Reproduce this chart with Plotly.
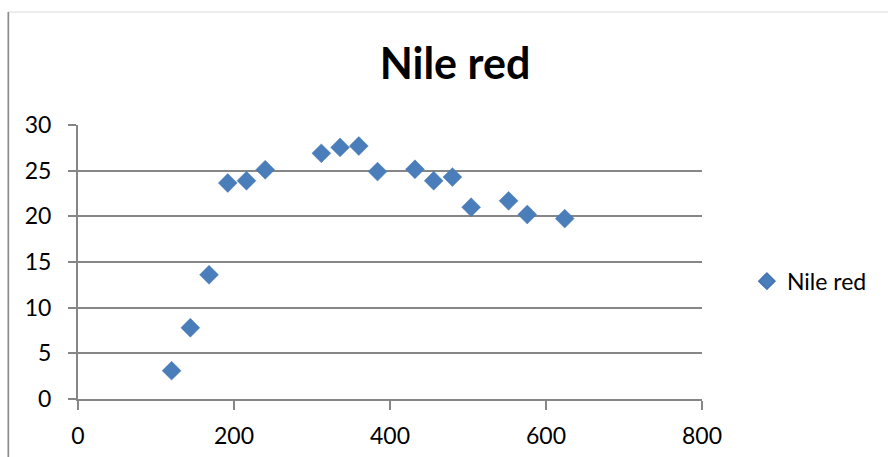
import plotly.graph_objects as go

# Nile red series
x_vals = [120, 144, 168, 192, 216, 240, 312, 336, 360, 384, 432, 456, 480, 504, 552, 576, 624]
y_vals = [3.1, 7.8, 13.6, 23.65, 23.9, 25.1, 26.9, 27.55, 27.7, 24.9, 25.15, 23.9, 24.3, 21.0, 21.7, 20.2, 19.75]
series_name = "Nile red"
chart_title = "Nile red"

x_ticks = [0, 200, 400, 600, 800]
y_ticks = [0, 5, 10, 15, 20, 25, 30]

FONT = "Lato, Calibri, sans-serif"
GRID = "#868686"
BLUE = "#4A7EBB"

fig = go.Figure()
fig.add_trace(go.Scatter(
    x=x_vals, y=y_vals, mode="markers", name=series_name,
    marker=dict(symbol="diamond", size=14.5, color=BLUE,
                line=dict(color="#4677B5", width=0.5)),
))

fig.update_layout(
    width=888, height=457,
    margin=dict(l=78, r=186, t=125, b=58, autoexpand=False),
    paper_bgcolor="white", plot_bgcolor="white",
    font=dict(family=FONT, size=23, color="black"),
    title=dict(text="<b>" + chart_title + "</b>", x=455 / 888, xanchor="center",
               xref="container", y=1 - 64 / 457, yanchor="middle", yref="container",
               font=dict(family=FONT, size=43, color="black")),
    showlegend=True,
    legend=dict(x=1.072, xanchor="left", y=0.43, yanchor="middle",
                font=dict(family=FONT, size=23, color="black"),
                bgcolor="rgba(0,0,0,0)", itemsizing="constant"),
    xaxis=dict(range=[0, 800], tickvals=x_ticks, showgrid=False, zeroline=False,
               showline=True, linecolor=GRID, linewidth=2,
               ticks="outside", ticklen=9, tickcolor=GRID, tickwidth=2,
               ticklabelstandoff=6, fixedrange=True),
    yaxis=dict(range=[0, 30], tickvals=y_ticks, showgrid=True, gridcolor=GRID,
               gridwidth=2, zeroline=False,
               showline=True, linecolor=GRID, linewidth=2,
               ticks="outside", ticklen=8, tickcolor=GRID, tickwidth=2,
               ticklabelstandoff=12, fixedrange=True),
    shapes=[
        # chart frame: top and left edges
        dict(type="line", xref="paper", yref="paper",
             x0=(8 - 77.7) / 624.3, x1=1.5, y0=(399 - 12) / 274, y1=(399 - 12) / 274,
             line=dict(color="#D9D9D9", width=1)),
        dict(type="line", xref="paper", yref="paper",
             x0=(8 - 77.7) / 624.3, x1=(8 - 77.7) / 624.3,
             y0=(399 - 12) / 274, y1=-0.3,
             line=dict(color="#8C8C8C", width=1.7)),
    ],
)

fig.write_html("out.html")
